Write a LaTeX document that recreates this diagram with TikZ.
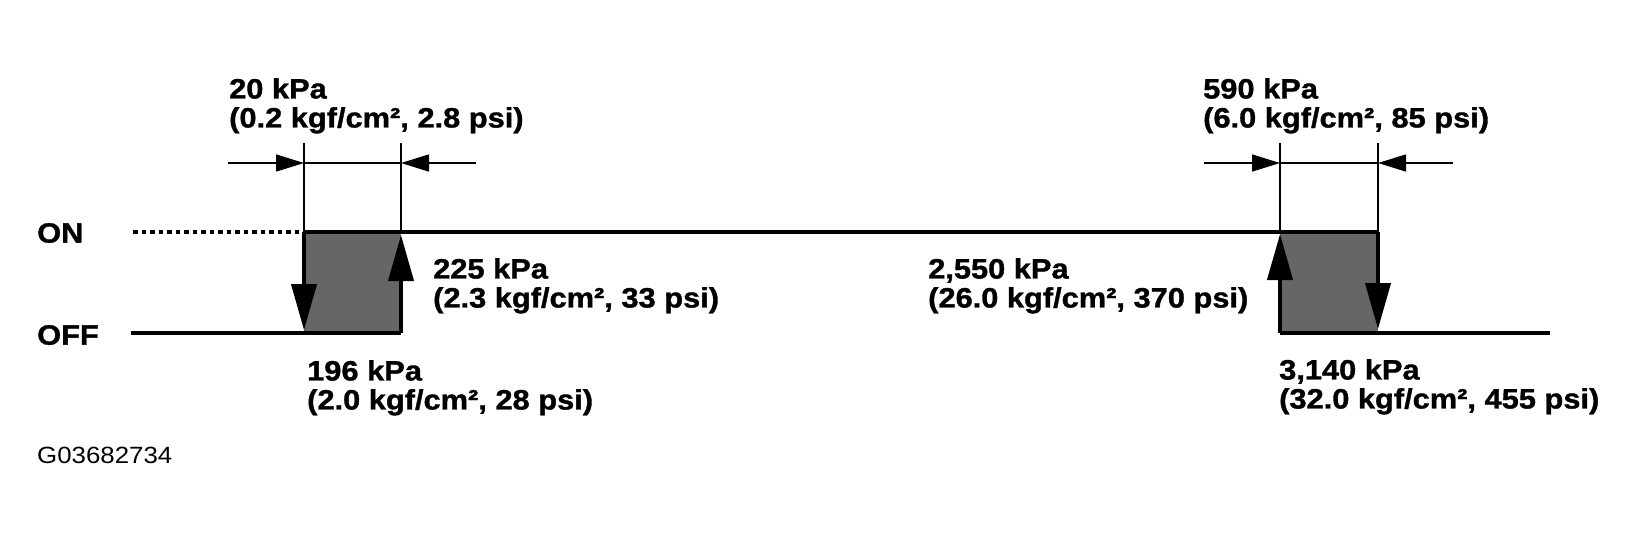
\documentclass[tikz,border=0pt]{standalone}
\usepackage{fontspec}
\newfontfamily\labfont[FakeStretch=1.1,BoldFeatures={FakeBold=1.2}]{Liberation Sans}
\usetikzlibrary{arrows.meta}
\begin{document}
\begin{tikzpicture}[x=1pt,y=-1pt,
  lbl/.style={anchor=north west,inner sep=0pt,align=left,font={\labfont\bfseries\fontsize{28}{29}\selectfont}},
  side/.style={anchor=west,inner sep=0pt,font={\labfont\bfseries\fontsize{28}{29}\selectfont}},
  code/.style={anchor=west,inner sep=0pt,font={\labfont\fontsize{23.5}{24}\selectfont}},
  heavy/.style={line width=4pt},
  fine/.style={line width=1.5pt},
  dimarrow/.style={fine,-{Triangle[length=28pt,width=17pt]}},
  edgearrow/.style={line width=4pt,-{Triangle[length=46pt,width=25pt]}},
  shade/.style={fill=black!60}]
\useasboundingbox (0,0) rectangle (1641,539);
% key points
\coordinate (a1) at (304,232); \coordinate (a2) at (401,232);
\coordinate (a3) at (401,333); \coordinate (a4) at (304,333);
\coordinate (b1) at (1280,232); \coordinate (b2) at (1378,232);
\coordinate (b3) at (1378,333); \coordinate (b4) at (1280,333);
\coordinate (dotstart) at (133,232);
\coordinate (offstart) at (131,333);
\coordinate (offend) at (1550,333);
% extension line tops
\coordinate (ea1) at (304,143); \coordinate (ea2) at (401,143);
\coordinate (eb1) at (1280,143); \coordinate (eb2) at (1378,143);
% dimension arrow tails
\coordinate (da1) at (228,163); \coordinate (da2) at (476,163);
\coordinate (db1) at (1204,163); \coordinate (db2) at (1453,163);
% shaded boxes
\fill[shade] (a1) rectangle (a3);
\fill[shade] (b1) rectangle (b3);
% ON / OFF lines
\draw[heavy,dash pattern=on 4.5pt off 4pt] (dotstart) -- (a1);
\draw[heavy] (a1) -- (b2);
\draw[heavy] (offstart) -- (a3);
\draw[heavy] (b4) -- (offend);
% box edges with arrows
\draw[edgearrow] (a1) -- ([yshift=3pt]a4);
\draw[edgearrow] (a3) -- ([yshift=-3pt]a2);
\draw[edgearrow] (b4) -- ([yshift=-2pt]b1);
\draw[edgearrow] (b2) -- ([yshift=4pt]b3);
% extension lines
\draw[fine] (ea1) -- (a1);
\draw[fine] (ea2) -- (a2);
\draw[fine] (eb1) -- (b1);
\draw[fine] (eb2) -- (b2);
% dimension arrows
\draw[dimarrow] (da1) -- (ea1 |- da1);
\draw[dimarrow] (da2) -- (ea2 |- da2);
\draw[fine] (ea1 |- da1) -- (ea2 |- da2);
\draw[dimarrow] (db1) -- (eb1 |- db1);
\draw[dimarrow] (db2) -- (eb2 |- db2);
\draw[fine] (eb1 |- db1) -- (eb2 |- db2);
% labels
\node[side] (on) at (37,233) {ON};
\node[side] (off) at (37,335) {OFF};
\node[lbl] (t20) at (229,78) {20 kPa\\(0.2 kgf/cm², 2.8 psi)};
\node[lbl] (t590) at (1203,78) {590 kPa\\(6.0 kgf/cm², 85 psi)};
\node[lbl] (t225) at (433,258) {225 kPa\\(2.3 kgf/cm², 33 psi)};
\node[lbl] (t2550) at (928,258) {2,550 kPa\\(26.0 kgf/cm², 370 psi)};
\node[lbl] (t196) at (307,360) {196 kPa\\(2.0 kgf/cm², 28 psi)};
\node[lbl] (t3140) at (1279,359) {3,140 kPa\\(32.0 kgf/cm², 455 psi)};
\node[code] (gcode) at (37,455) {G03682734};
\end{tikzpicture}
\end{document}
